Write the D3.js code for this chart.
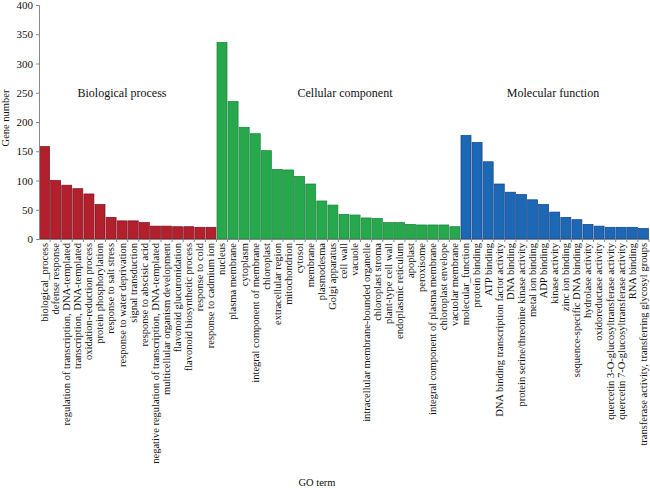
<!DOCTYPE html>
<html><head><meta charset="utf-8">
<script src="https://cdn.jsdelivr.net/npm/d3@7"></script>
<style>body{margin:0;background:#fff}svg{display:block}text{font-family:"Liberation Serif","Times New Roman",serif;fill:#111}</style>
</head><body><svg id="c" width="650" height="488"></svg>
<script>
const bpTerms=["biological_process","defense response","regulation of transcription, DNA-templated","transcription, DNA-templated","oxidation-reduction process","protein phosphorylation","response to salt stress","response to water deprivation","signal transduction","response to abscisic acid","negative regulation of transcription, DNA-templated","multicellular organism development","flavonoid glucuronidation","flavonoid biosynthetic process","response to cold","response to cadmium ion"];
const bpValues=[158,100,92,86,77,59,37,31,31,28,22,22,21,21,20,20];
const ccTerms=["nucleus","plasma membrane","cytoplasm","integral component of membrane","chloroplast","extracellular region","mitochondrion","cytosol","membrane","plasmodesma","Golgi apparatus","cell wall","vacuole","intracellular membrane-bounded organelle","chloroplast stroma","plant-type cell wall","endoplasmic reticulum","apoplast","peroxisome","integral component of plasma membrane","chloroplast envelope","vacuolar membrane"];
const ccValues=[336,235,191,180,151,119,118,107,94,65,58,42,41,36,35,28,28,25,24,24,24,21];
const mfTerms=["molecular_function","protein binding","ATP binding","DNA binding transcription factor activity","DNA binding","protein serine/threonine kinase activity","metal ion binding","ADP binding","kinase activity","zinc ion binding","sequence-specific DNA binding","hydrolase activity","oxidoreductase activity","quercetin 3-O-glucosyltransferase activity","quercetin 7-O-glucosyltransferase activity","RNA binding","transferase activity, transferring glycosyl groups"];
const mfValues=[177,165,132,94,80,76,67,59,46,37,33,25,22,20,20,20,18];
const groupNames=["Biological process","Cellular component","Molecular function"];
const yTicks=[0,50,100,150,200,250,300,350,400];

const FONT="'Liberation Serif','Times New Roman',serif";
const fills=["#b21f2d","#27a84d","#1d68b5"],strokes=["#7e0d18","#158238","#0e3f8a"];
const groups=[[bpTerms,bpValues],[ccTerms,ccValues],[mfTerms,mfValues]];
const data=[];
groups.forEach((g,gi)=>g[0].forEach((t,i)=>data.push({term:t,value:g[1][i],g:gi,key:gi+"|"+t})));

const svg=d3.select("#c");
const x0=39,x1=649,yB=239,yT=5;
const x=d3.scaleBand().domain(data.map(d=>d.key)).range([x0,x1]).paddingInner(0.1).paddingOuter(0.05);
const y=d3.scaleLinear().domain([0,400]).range([yB,yT]);

svg.append("g").selectAll("rect").data(data).join("rect")
 .attr("x",d=>x(d.key)).attr("y",d=>y(d.value)).attr("width",x.bandwidth()).attr("height",d=>yB-y(d.value))
 .attr("fill",d=>fills[d.g]).attr("stroke",d=>strokes[d.g]).attr("stroke-width",0.7);

const ya=svg.append("g").attr("transform",`translate(${x0},0)`).attr("font-family",FONT).call(d3.axisLeft(y).tickValues(yTicks).tickSize(3).tickPadding(3));
ya.attr("font-family",FONT);
ya.selectAll("text").style("font-size","11px").style("font-family",FONT).attr("fill","#222");
ya.select(".domain").attr("stroke","#888");ya.selectAll(".tick line").attr("stroke","#888");

const xa=svg.append("g").attr("transform",`translate(0,${yB})`).call(d3.axisBottom(x).tickSize(0).tickPadding(4).tickFormat(k=>k.split("|")[1]));
xa.attr("font-family",FONT);
xa.select(".domain").attr("stroke","#888");
xa.selectAll("text").attr("transform","rotate(-90)").attr("text-anchor","end").attr("dx","-4").attr("dy","0.32em").attr("x",0).attr("y",0)
 .style("font-size","10.5px").style("font-family",FONT).attr("fill","#111");
const step=x.step();
svg.append("g").selectAll("line").data(data).join("line")
 .attr("x1",d=>x(d.key)+x.bandwidth()+(step-x.bandwidth())/2).attr("x2",d=>x(d.key)+x.bandwidth()+(step-x.bandwidth())/2)
 .attr("y1",yB).attr("y2",yB+3).attr("stroke","#888");

const gx=[122,345,553];
groupNames.forEach((n,i)=>svg.append("text").attr("x",gx[i]).attr("y",y(250)+4).attr("text-anchor","middle").style("font-family",FONT).style("font-size","12px").text(n));
svg.append("text").attr("transform","translate(9,118) rotate(-90)").attr("text-anchor","middle").style("font-family",FONT).style("font-size","10.5px").text("Gene number");
svg.append("text").attr("x",317).attr("y",486).attr("text-anchor","middle").style("font-family",FONT).style("font-size","10.5px").text("GO term");
</script></body></html>
